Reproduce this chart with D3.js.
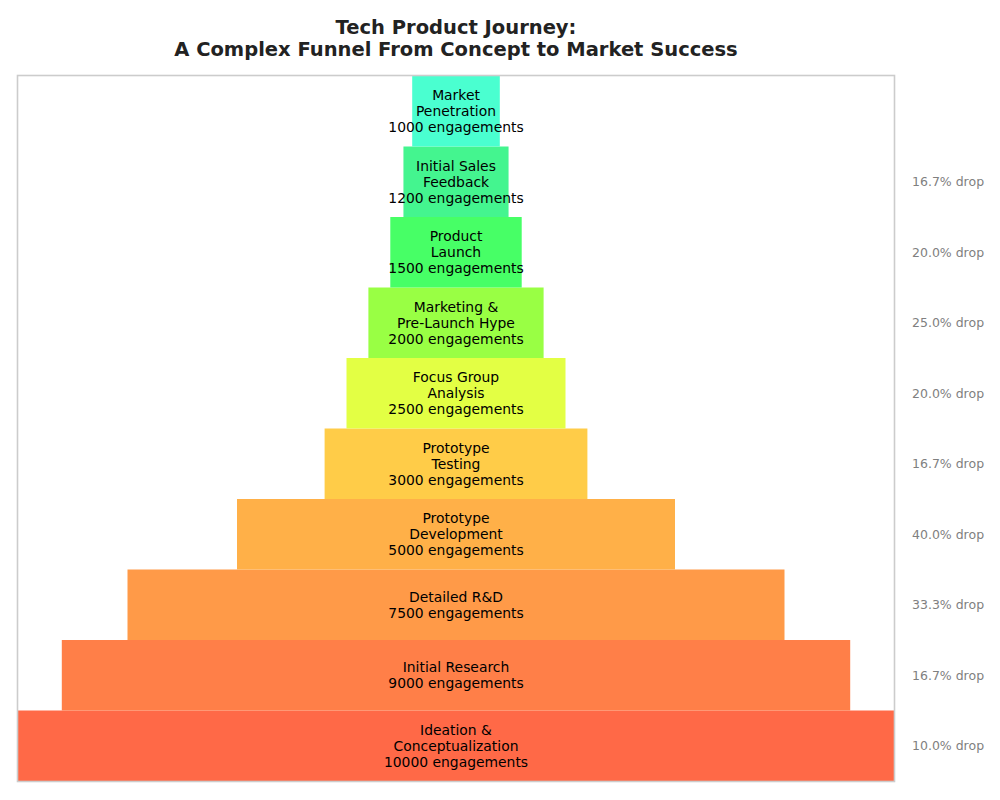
<!DOCTYPE html>
<html><head><meta charset="utf-8">
<script src="https://cdn.jsdelivr.net/npm/d3@7"></script>
<style>body{margin:0;background:#fff;} svg{display:block;font-family:"DejaVu Sans",sans-serif;}</style>
</head><body>
<svg id="chart" width="1000" height="800"></svg>
<script>
// Stages from bottom (widest) to top (narrowest)
const stages = [
  ["Ideation &", "Conceptualization"],
  ["Initial Research"],
  ["Detailed R&D"],
  ["Prototype", "Development"],
  ["Prototype", "Testing"],
  ["Focus Group", "Analysis"],
  ["Marketing &", "Pre-Launch Hype"],
  ["Product", "Launch"],
  ["Initial Sales", "Feedback"],
  ["Market", "Penetration"]
];
const values = [10000, 9000, 7500, 5000, 3000, 2500, 2000, 1500, 1200, 1000];
const colors = ["#FF6947", "#FF7F48", "#FF9A48", "#FFB048", "#FFCC48", "#E3FF44", "#99FF44", "#47FF66", "#44F58F", "#4AFFD0"];

const svg = d3.select("#chart");
const plot = {left: 18, right: 894, top: 76, bottom: 781};

const x = d3.scaleLinear().domain([-values[0] / 2, values[0] / 2]).range([plot.left, plot.right]);
const y = d3.scaleBand().domain(d3.range(values.length)).range([plot.bottom, plot.top]).padding(0);

// title
const title = svg.append("text").attr("x", 456).attr("text-anchor", "middle")
  .attr("font-size", 19.5).attr("font-weight", "bold").attr("fill", "#222");
title.append("tspan").attr("x", 456).attr("y", 34).text("Tech Product Journey:");
title.append("tspan").attr("x", 456).attr("y", 56).text("A Complex Funnel From Concept to Market Success");

// bars
const g = svg.append("g");
g.selectAll("rect.bar").data(values).join("rect")
  .attr("class", "bar")
  .attr("x", d => x(-d / 2))
  .attr("width", d => x(d / 2) - x(-d / 2))
  .attr("y", (d, i) => y(i))
  .attr("height", y.bandwidth())
  .attr("fill", (d, i) => colors[i]);

// labels
values.forEach((v, i) => {
  const lines = stages[i].concat([v + " engagements"]);
  const cy = y(i) + y.bandwidth() / 2;
  const lh = 16.2;
  const t = g.append("text").attr("text-anchor", "middle").attr("font-size", 13.9).attr("fill", "#000");
  lines.forEach((ln, k) => {
    t.append("tspan").attr("x", x(0)).attr("y", cy + (k - (lines.length - 1) / 2) * lh + 5).text(ln);
  });
  if (i < values.length - 1) {
    const drop = (values[i] - values[i + 1]) / values[i] * 100;
    g.append("text").attr("x", 912).attr("y", cy + 4.5).attr("font-size", 12.5).attr("fill", "#808080")
      .text(drop.toFixed(1) + "% drop");
  }
});

// frame
svg.append("rect").attr("x", plot.left - 0.5).attr("y", plot.top - 0.5)
  .attr("width", plot.right - plot.left + 1).attr("height", plot.bottom - plot.top + 1)
  .attr("fill", "none").attr("stroke", "#cccccc").attr("stroke-width", 1.6);
</script>
</body></html>
